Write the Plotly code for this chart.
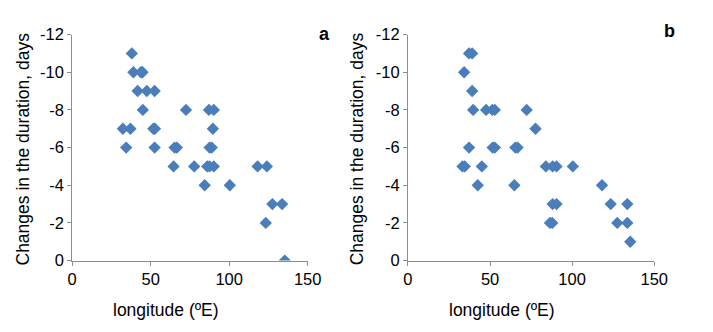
import plotly.graph_objects as go

# Panel a data
lon_a = [38, 39, 43.8, 44.8, 41.7, 47.5, 52.5, 45, 72.5, 87.1, 90.2,
         32.3, 37.1, 51.7, 52.7, 89.6, 34.4, 52.5, 65.2, 66.7, 87.5, 88.9,
         64.6, 77.7, 86, 87.5, 90.2, 118.1, 124, 84.4, 100.4,
         127.5, 133.7, 123.3, 135.4]
chg_a = [-11, -10, -10, -10, -9, -9, -9, -8, -8, -8, -8,
         -7, -7, -7, -7, -7, -6, -6, -6, -6, -6, -6,
         -5, -5, -5, -5, -5, -5, -5, -4, -4,
         -3, -3, -2, 0]

# Panel b data
lon_b = [37.2, 39.1, 34.2, 39.1, 39.7, 47.6, 51.4, 52.9, 72.3, 77.7,
         37.2, 51.6, 52.9, 65.4, 66.8,
         33.2, 34.6, 45, 84, 88.1, 90.5, 100.4,
         42.5, 64.8, 118.2,
         88.1, 90.5, 123.5, 133.6,
         86.5, 87.9, 127.5, 133.6, 135.4]
chg_b = [-11, -11, -10, -9, -8, -8, -8, -8, -8, -7,
         -6, -6, -6, -6, -6,
         -5, -5, -5, -5, -5, -5, -5,
         -4, -4, -4,
         -3, -3, -3, -3,
         -2, -2, -2, -2, -1]

x_ticks = [0, 50, 100, 150]
x_tick_labels = ["0", "50", "100", "150"]
y_ticks = [-12, -10, -8, -6, -4, -2, 0]
y_tick_labels = ["-12", "-10", "-8", "-6", "-4", "-2", "0"]

W, H = 713, 332
FONT = "Liberation Sans, Arial, sans-serif"
MARK = "#4a7ebb"
AX = "#8c8c8c"

fig = go.Figure()
fig.add_trace(go.Scatter(x=lon_a, y=chg_a, mode="markers", xaxis="x", yaxis="y",
                         marker=dict(symbol="diamond", size=9.5, color=MARK),
                         showlegend=False))
fig.add_trace(go.Scatter(x=lon_b, y=chg_b, mode="markers", xaxis="x2", yaxis="y2",
                         marker=dict(symbol="diamond", size=9.5, color=MARK),
                         showlegend=False))

yd = [(H - 266) / H, (H - 27) / H]
xa = [69 / W, 311 / W]
xb = [414 / W, 667 / W]

common_x = dict(range=[0, 150], tickvals=x_ticks, ticktext=x_tick_labels,
                showgrid=False, zeroline=False, showline=True, linecolor=AX, linewidth=1,
                ticks="outside", ticklen=4, tickcolor=AX,
                tickfont=dict(family=FONT, size=16.5, color="#000"))
common_y = dict(range=[0, -12], tickvals=y_ticks, ticktext=y_tick_labels,
                showgrid=False, zeroline=False, showline=True, linecolor=AX, linewidth=1,
                ticks="outside", ticklen=4, tickcolor=AX,
                tickfont=dict(family=FONT, size=16.5, color="#000"))

fig.update_layout(
    width=W, height=H, margin=dict(l=0, r=0, t=0, b=0),
    paper_bgcolor="white", plot_bgcolor="white",
    xaxis=dict(domain=xa, anchor="y", **common_x),
    yaxis=dict(domain=yd, anchor="x", **common_y),
    xaxis2=dict(domain=xb, anchor="y2", **common_x),
    yaxis2=dict(domain=yd, anchor="x2", **common_y),
)

title_font = dict(family=FONT, size=17.5, color="#000")
ann = [
    dict(text="Changes in the duration, days", x=18 / W, y=(H - 148) / H, textangle=-90),
    dict(text="Changes in the duration, days", x=362 / W, y=(H - 148) / H, textangle=-90),
    dict(text="longitude (ºE)", x=165 / W, y=(H - 318) / H, textangle=0),
    dict(text="longitude (ºE)", x=511 / W, y=(H - 318) / H, textangle=0),
]
for a in ann:
    fig.add_annotation(xref="paper", yref="paper", xanchor="center", yanchor="middle",
                       showarrow=False, font=title_font, **a)

fig.add_annotation(text="<b>a</b>", xref="paper", yref="paper", x=328 / W, y=(H - 26) / H,
                   xanchor="center", yanchor="middle", showarrow=False,
                   font=dict(family=FONT, size=18, color="#000"))
fig.add_annotation(text="<b>b</b>", xref="paper", yref="paper", x=682.5 / W, y=(H - 23) / H,
                   xanchor="center", yanchor="middle", showarrow=False,
                   font=dict(family=FONT, size=18, color="#000"))

fig.write_html("out.html")
